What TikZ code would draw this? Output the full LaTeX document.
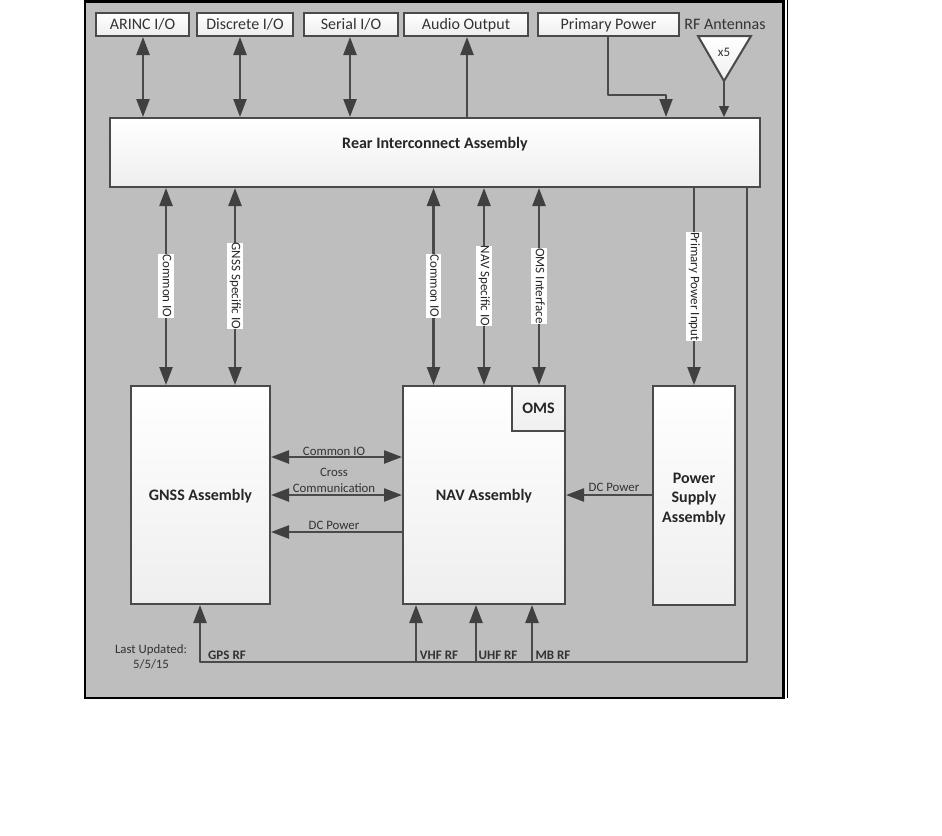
\documentclass[tikz,border=0pt]{standalone}
\usepackage{fontspec}
\setmainfont{Carlito}
\usetikzlibrary{arrows.meta}
\definecolor{panelgray}{HTML}{BEBEBE}
\definecolor{linegray}{HTML}{4A4A4A}
\definecolor{tipgray}{HTML}{404040}
\definecolor{txtdark}{HTML}{333333}
\begin{document}
\begin{tikzpicture}[
  x=1pt, y=-1pt,
  iobox/.style={draw=linegray, line width=2pt, top color=white, bottom color=gray!14, inner sep=0pt, text height=12pt, text depth=2pt, font=\fontsize{16}{18}\selectfont\color{txtdark}},
  unitbox/.style={draw=linegray, line width=2pt, top color=white, middle color=white, bottom color=gray!13, inner sep=0pt, align=center, font=\fontsize{16}{18}\selectfont\bfseries\color{black!85}},
  link/.style={draw=linegray, line width=2.4pt},
  both/.style={link, {Triangle[length=18pt,width=13pt,color=tipgray]}-{Triangle[length=18pt,width=13pt,color=tipgray]}},
  onearrow/.style={link, -{Triangle[length=18pt,width=13pt,color=tipgray]}},
  vlabel/.style={fill=white, rotate=-90, inner xsep=0pt, inner ysep=1.5pt, text height=9.5pt, text depth=3pt, font=\fontsize{13}{14}\selectfont\color{black!85}},
  hlabel/.style={inner sep=0pt, font=\fontsize{12.8}{14}\selectfont\color{txtdark}},
  rflabel/.style={inner sep=0pt, font=\fontsize{13}{14}\selectfont\bfseries\color{txtdark}},
]
\useasboundingbox (0,0) rectangle (942,835);
% panel, outer hairline on the right
\draw[black, line width=2.6pt, fill=panelgray] (85,1.5) rectangle (783.5,698);
\draw[black, line width=0.8pt] (787,0) -- (787,698);

% I/O row
\node[iobox, minimum width=93pt, minimum height=23pt]  (arinc) at (142.5,24.5) {ARINC I/O};
\node[iobox, minimum width=96pt, minimum height=23pt]  (disc)  at (245,24.5)   {Discrete I/O};
\node[iobox, minimum width=94pt, minimum height=23pt]  (serial) at (351,24.5)  {Serial I/O};
\node[iobox, minimum width=124pt, minimum height=23pt] (audio) at (466,24.5)   {Audio Output};
\node[iobox, minimum width=141pt, minimum height=23pt] (prim)  at (608.5,24.5) {Primary Power};
\node[hlabel, font=\fontsize{16}{18}\selectfont\color{txtdark}] (rfant) at (725,24.5) {RF Antennas};
\draw[draw=linegray, line width=2pt, top color=white, bottom color=gray!12] (698,36) -- (751,36) -- (724,81) -- cycle;
\coordinate (apex) at (724,81);
\node[hlabel, font=\fontsize{13}{14}\selectfont\color{txtdark}] (xfive) at (724,52) {x5};

% assemblies
\node[unitbox, text depth=19pt, minimum width=650pt, minimum height=69pt] (rear) at (435,152.5) {Rear Interconnect Assembly};
\node[unitbox, text height=14pt, minimum width=139pt, minimum height=218pt] (gnss) at (200.5,495) {GNSS Assembly};
\node[unitbox, text height=14pt, minimum width=162pt, minimum height=218pt] (nav)  at (484,495) {NAV Assembly};
\node[unitbox, minimum width=82pt, minimum height=219pt] (psu) at (694,495.5) {\rule{0pt}{17pt}Power\\[1.5pt]Supply\\[1.5pt]Assembly};
\node[unitbox, top color=gray!6, middle color=gray!3, bottom color=gray!12, minimum width=53pt, minimum height=45pt] (oms) at (538.5,408.5) {OMS};

% top row links
\foreach \x/\a in {143/arinc,240/disc,350/serial} {
  \draw[both] (\x,0 |- \a.south) -- (\x,0 |- rear.north);
}
\draw[onearrow] (467,0 |- rear.north) -- (467,0 |- audio.south);
\coordinate (primbend) at (608,95);
\draw[onearrow, line width=2pt, line join=round] (primbend |- prim.south) -- (primbend) -- (666,95) -- (666,0 |- rear.north);
\draw[link, line width=1.4pt, -{Triangle[length=11pt,width=10pt,color=tipgray]}] (apex) -- (apex |- rear.north);

% down to the assemblies
\foreach \x/\b in {166/gnss,235/gnss,433.5/nav,484/nav,539/nav} {
  \draw[both] (\x,0 |- rear.south) -- (\x,0 |- \b.north);
}
\draw[onearrow] (694,0 |- rear.south) -- (694,0 |- psu.north);
\foreach \nam/\x/\y/\labl in {%
  lcommona/166/286/{Common IO},
  lgnss/235/286/{GNSS Specific IO},
  lcommonb/433.5/286/{Common IO},
  lnav/484/286/{NAV Specific IO},
  loms/539/286/{OMS Interface},
  lprim/694/286.5/{Primary Power Input}%
} {
  \node[vlabel] (\nam) at (\x,\y) {\labl};
}

% between the assemblies
\coordinate (cio) at (0,457);
\coordinate (cross) at (0,495);
\coordinate (dcg) at (0,532);
\draw[both] (gnss.east |- cio) -- (nav.west |- cio);
\draw[both] (gnss.east |- cross) -- (nav.west |- cross);
\draw[onearrow] (nav.west |- dcg) -- (gnss.east |- dcg);
\draw[onearrow] (psu.west |- cross) -- (nav.east |- cross);
\node[hlabel] (lcio)   at (334,451) {Common IO};
\node[hlabel] (lcross) at (334,472) {Cross};
\node[hlabel] (lcomm)  at (334,488.5) {Communication};
\node[hlabel] (ldcg)   at (334,525) {DC Power};
\node[hlabel] (ldcp)   at (614,487) {DC Power};

% RF bus
\coordinate (bus) at (747,662);
\draw[onearrow, line join=round] (747,0 |- rear.south) -- (bus) -- (200,662) -- (200,0 |- gnss.south);
\foreach \x in {416,476,532} {
  \draw[onearrow] (\x,662) -- (\x,0 |- nav.south);
}
\foreach \nam/\x/\labl in {lgps/227/GPS RF,lvhf/439/VHF RF,luhf/498/UHF RF,lmb/553/MB RF} {
  \node[rflabel] (\nam) at (\x,655) {\labl};
}
\node[hlabel, align=center, font=\fontsize{12.8}{15}\selectfont\color{txtdark}] (lupd) at (151,656.5) {Last Updated:\\5/5/15};
\end{tikzpicture}
\end{document}
